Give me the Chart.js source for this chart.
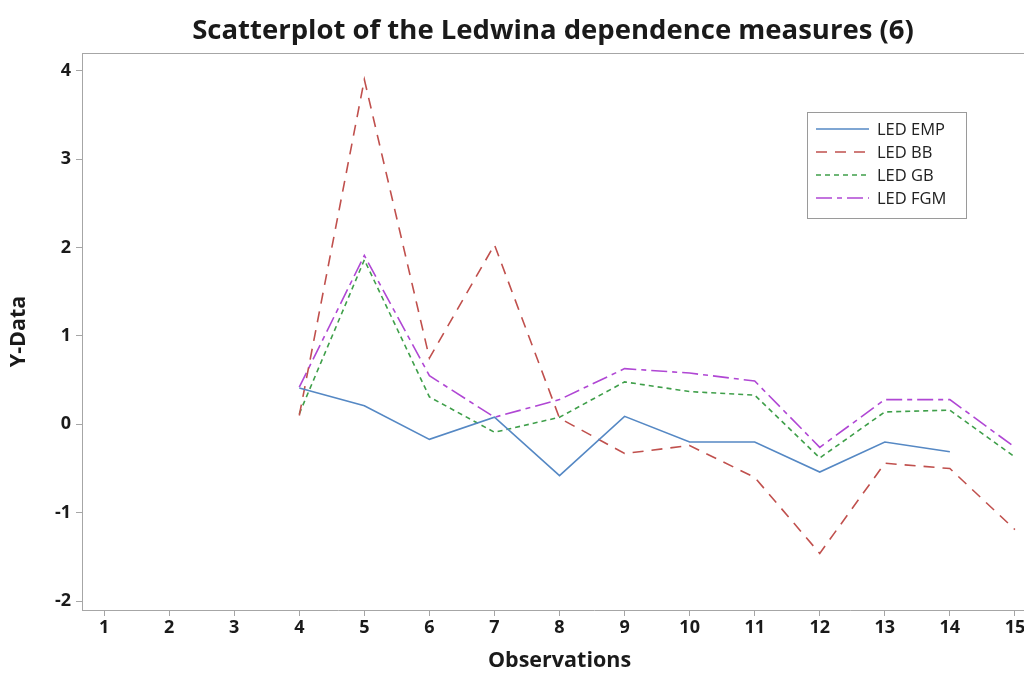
<!DOCTYPE html>
<html>
<head>
<meta charset="utf-8">
<script src="https://cdn.jsdelivr.net/npm/chart.js@4/dist/chart.umd.min.js"></script>
<style>
  html, body { margin: 0; padding: 0; background: #fff; overflow: hidden; }
  #wrap { position: relative; width: 1106px; height: 673px; }
</style>
</head>
<body>
<div id="wrap"><canvas id="c"></canvas></div>
<script>
// Observation numbers shown on the x axis and the ones that carry values
const xTicks = [1, 2, 3, 4, 5, 6, 7, 8, 9, 10, 11, 12, 13, 14, 15];
const yTicks = [-2, -1, 0, 1, 2, 3, 4];
const observations = [4, 5, 6, 7, 8, 9, 10, 11, 12, 13, 14, 15];

// Ledwina dependence measures per observation
const ledEmp = [0.41, 0.21, -0.17, 0.08, -0.58, 0.09, -0.20, -0.20, -0.54, -0.20, -0.31, null];
const ledBb  = [0.10, 3.90, 0.75, 2.03, 0.07, -0.33, -0.24, -0.60, -1.46, -0.44, -0.50, -1.19];
const ledGb  = [0.12, 1.86, 0.31, -0.09, 0.08, 0.48, 0.37, 0.33, -0.38, 0.14, 0.16, -0.37];
const ledFgm = [0.42, 1.91, 0.55, 0.08, 0.28, 0.63, 0.58, 0.49, -0.26, 0.28, 0.28, -0.26];

const seriesNames = ['LED EMP', 'LED BB', 'LED GB', 'LED FGM'];
const xTitle = 'Observations';

const pts = vals => observations.map((o, i) => ({ x: o, y: vals[i] }));

const frameColor = '#a6a6a6';
const labelFont = "'Open Sans', 'DejaVu Sans', sans-serif";
// the framed x range is 0.66 .. 15.34; the scale runs on past it to the page edge
const frameMin = 0.66, frameMax = 15.34;

// Framed legend box drawn inside the plot area
const boxLegend = {
  id: 'boxLegend',
  afterDatasetsDraw(chart) {
    const ctx = chart.ctx;
    const x0 = 807, y0 = 112, w = 159, h = 106;
    ctx.save();
    ctx.fillStyle = '#fff';
    ctx.fillRect(x0, y0, w, h);
    ctx.strokeStyle = '#9a9a9a';
    ctx.lineWidth = 1;
    ctx.strokeRect(x0 + 0.5, y0 + 0.5, w, h);
    chart.data.datasets.forEach((ds, i) => {
      const y = y0 + 17 + i * 23;
      ctx.beginPath();
      ctx.setLineDash(ds.borderDash || []);
      ctx.strokeStyle = ds.borderColor;
      ctx.lineWidth = ds.borderWidth;
      ctx.moveTo(x0 + 9, y);
      ctx.lineTo(x0 + 62, y);
      ctx.stroke();
      ctx.setLineDash([]);
      ctx.fillStyle = '#222';
      ctx.font = "16.5px " + labelFont;
      ctx.textBaseline = 'middle';
      ctx.fillText(ds.label, x0 + 70, y + 1);
    });
    ctx.restore();
  }
};

// Top edge of the plot frame and the x-axis title centred under the frame
const frameExtras = {
  id: 'frameExtras',
  beforeDatasetsDraw(chart) {
    const a = chart.chartArea, ctx = chart.ctx;
    ctx.save();
    ctx.strokeStyle = frameColor;
    ctx.lineWidth = 1;
    ctx.beginPath();
    ctx.moveTo(a.left, Math.round(a.top) + 0.5);
    ctx.lineTo(a.right, Math.round(a.top) + 0.5);
    ctx.stroke();
    ctx.restore();
  },
  afterDraw(chart) {
    const xs = chart.scales.x, ctx = chart.ctx;
    const cx = xs.getPixelForValue((frameMin + frameMax) / 2);
    ctx.save();
    ctx.fillStyle = '#1a1a1a';
    ctx.font = "bold 21.5px " + labelFont;
    ctx.textAlign = 'center';
    ctx.textBaseline = 'middle';
    ctx.fillText(xTitle, cx, xs.bottom - 12);
    ctx.restore();
  }
};

new Chart(document.getElementById('c'), {
  type: 'line',
  data: {
    datasets: [
      { label: seriesNames[0], data: pts(ledEmp), borderColor: '#5588c4', borderWidth: 1.6 },
      { label: seriesNames[1], data: pts(ledBb), borderColor: '#c0504d', borderWidth: 1.6, borderDash: [11, 8] },
      { label: seriesNames[2], data: pts(ledGb), borderColor: '#3f9f4a', borderWidth: 1.6, borderDash: [5, 4] },
      { label: seriesNames[3], data: pts(ledFgm), borderColor: '#b047d4', borderWidth: 1.6, borderDash: [16, 5, 5, 5] }
    ]
  },
  options: {
    responsive: true,
    maintainAspectRatio: false,
    animation: false,
    layout: { padding: 0 },
    elements: { point: { radius: 0 }, line: { tension: 0, fill: false } },
    plugins: {
      legend: { display: false },
      tooltip: { enabled: false },
      title: {
        display: true,
        text: 'Scatterplot of the Ledwina dependence measures (6)',
        color: '#1a1a1a',
        font: { family: labelFont, size: 27.5, weight: 'bold', lineHeight: 1.2 },
        padding: { top: 14.5, bottom: 5.5 }
      }
    },
    scales: {
      x: {
        type: 'linear',
        min: frameMin,
        max: 16.4,
        afterBuildTicks: s => { s.ticks = xTicks.map(v => ({ value: v })); },
        afterFit: s => { s.height = 63; },
        grid: { display: true, drawOnChartArea: false, drawTicks: true, tickLength: 6, color: frameColor },
        border: { display: true, color: frameColor, width: 1 },
        ticks: { color: '#1a1a1a', font: { family: labelFont, size: 18, weight: 'bold' }, padding: 1, maxRotation: 0 },
        title: { display: false }
      },
      y: {
        min: -2.1,
        max: 4.2,
        afterBuildTicks: s => { s.ticks = yTicks.map(v => ({ value: v })); },
        afterFit: s => { s.width = 82; },
        grid: { display: true, drawOnChartArea: false, drawTicks: true, tickLength: 6, color: frameColor },
        border: { display: true, color: frameColor, width: 1 },
        ticks: { color: '#1a1a1a', font: { family: labelFont, size: 18, weight: 'bold' }, padding: 5 },
        title: {
          display: true, text: 'Y-Data', color: '#1a1a1a',
          font: { family: labelFont, size: 21.5, weight: 'bold', lineHeight: 1.2 },
          padding: { top: 6, bottom: 0 }
        }
      }
    }
  },
  plugins: [frameExtras, boxLegend]
});
</script>
</body>
</html>
